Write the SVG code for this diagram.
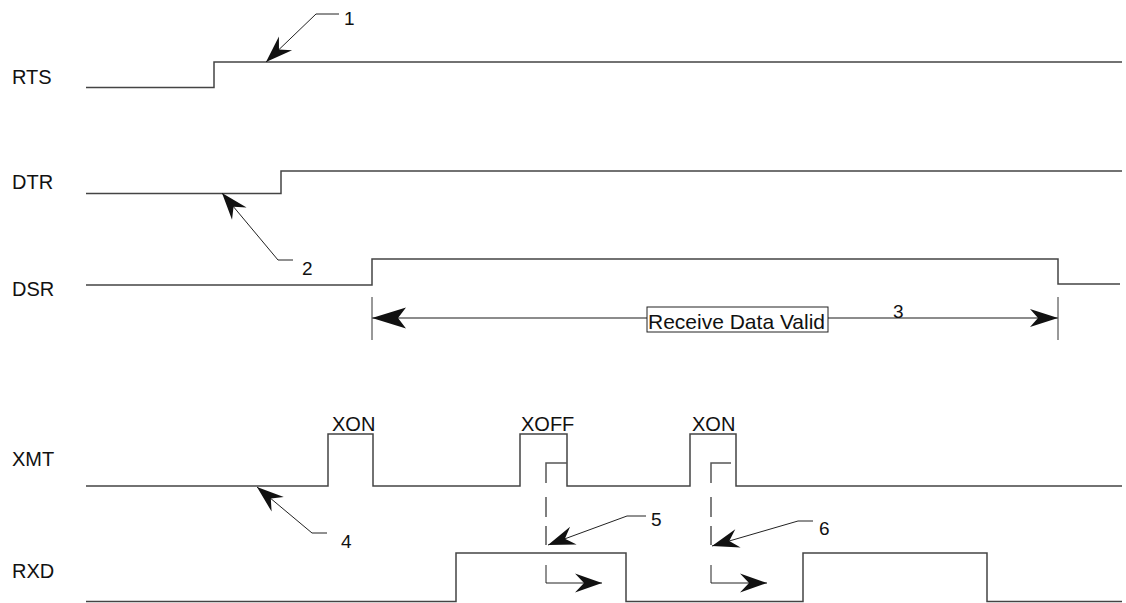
<svg xmlns="http://www.w3.org/2000/svg" width="1126" height="603" viewBox="0 0 1126 603">
<style>
.sig{fill:none;stroke:#444;stroke-width:1.5}
.lead{fill:none;stroke:#222;stroke-width:1}
.dim{fill:none;stroke:#666;stroke-width:1.5}
.tick{fill:none;stroke:#333;stroke-width:1}
.dash{fill:none;stroke:#555;stroke-width:1.5}
.lbl{font-family:"Liberation Sans",Arial,sans-serif;font-size:20px;fill:#111}
.num{font-family:"Liberation Sans",Arial,sans-serif;font-size:19px;fill:#111}
.box{fill:#fff;stroke:#222;stroke-width:1}
</style>
<defs>
<marker id="dart" markerUnits="userSpaceOnUse" viewBox="-29 -11 30 22" refX="0" refY="0" markerWidth="30" markerHeight="22" orient="auto">
<path d="M0,0 L-27,-9.5 L-18,0 L-27,9.5 Z" fill="#111"/>
</marker>
<marker id="dimL" markerUnits="userSpaceOnUse" viewBox="-36 -12 37 24" refX="0" refY="0" markerWidth="37" markerHeight="24" orient="auto-start-reverse">
<path d="M0,0 L-34,-10.5 L-26,0 L-34,10.5 Z" fill="#111"/>
</marker>
<marker id="dimR" markerUnits="userSpaceOnUse" viewBox="-30 -10 31 20" refX="0" refY="0" markerWidth="31" markerHeight="20" orient="auto">
<path d="M0,0 L-28,-9 L-20,0 L-28,9 Z" fill="#111"/>
</marker>
</defs>

<g id="rts">
<text class="lbl" x="12" y="84">RTS</text>
<path class="sig" d="M86,87.5 H214 V62 H1122"/>
</g>
<g id="dtr">
<text class="lbl" x="12" y="189">DTR</text>
<path class="sig" d="M86,193.5 H281 V171 H1122"/>
</g>
<g id="dsr">
<text class="lbl" x="12" y="296">DSR</text>
<path class="sig" d="M86,285 H372 V259 H1058 V284 H1120"/>
</g>
<g id="xmt">
<text class="lbl" x="12" y="466">XMT</text>
<path class="sig" d="M86,486 H328 V434 H373 V486 H520 V434 H567 V486 H690 V434 H736 V486 H1122"/>
<text class="lbl" x="332" y="431">XON</text>
<text class="lbl" x="521" y="431">XOFF</text>
<text class="lbl" x="692" y="431">XON</text>
</g>
<g id="rxd">
<text class="lbl" x="12" y="578">RXD</text>
<path class="sig" d="M86,601.5 H456 V553 H626 V601.5 H803 V553 H987 V601.5 H1122"/>
</g>

<g id="receive-data-valid">
<path class="tick" d="M372,297 V340 M1058,297 V340"/>
<path class="dim" d="M372,318 H647" marker-start="url(#dimL)"/>
<path class="dim" d="M828,318 H1058" marker-end="url(#dimR)"/>
<rect class="box" x="647" y="307" width="181" height="25"/>
<text class="lbl" style="font-size:21px" x="648" y="329">Receive Data Valid</text>
<text class="num" x="893" y="318">3</text>
</g>

<g id="connectors">
<path class="lead" d="M339,14 H316 L266,62" marker-end="url(#dart)"/>
<text class="num" x="344" y="25">1</text>
<path class="lead" d="M293,260 H278 L222,193" marker-end="url(#dart)"/>
<text class="num" x="302" y="275">2</text>
<path class="lead" d="M327,533 H312 L257,487" marker-end="url(#dart)"/>
<text class="num" x="341" y="548">4</text>
<path class="lead" d="M646,516 H627 L548,545" marker-end="url(#dart)"/>
<text class="num" x="651" y="526">5</text>
<path class="lead" d="M813,521 H798 L712,546" marker-end="url(#dart)"/>
<text class="num" x="819" y="535">6</text>

<path class="dash" d="M567,463 H546 V483 M546,497 V517 M546,526 V545"/>
<path class="lead" d="M546,565 V583 H602" marker-end="url(#dart)"/>
<path class="dash" d="M731,463 H711 V483 M711,497 V517 M711,526 V545"/>
<path class="lead" d="M711,565 V583 H767" marker-end="url(#dart)"/>
</g>
</svg>
